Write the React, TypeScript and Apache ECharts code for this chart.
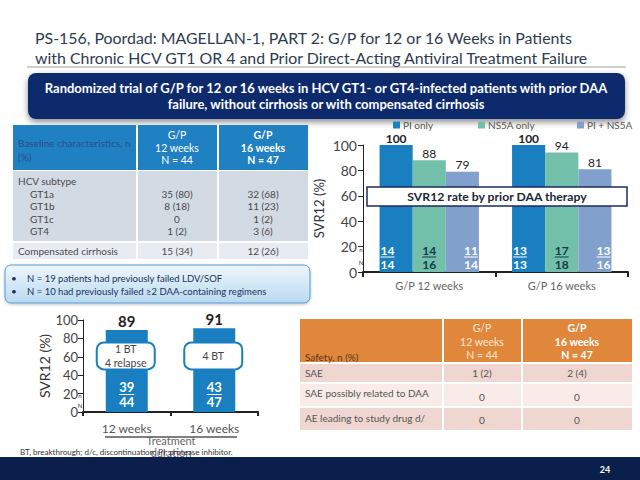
import React, { useEffect, useRef } from 'react';
import * as echarts from 'echarts';

const FONT = 'Lato, "Noto Sans", sans-serif';

// ---- Top-right chart: SVR12 by prior DAA therapy ----
const topCategories = ['G/P 12 weeks', 'G/P 16 weeks'];
const topSeriesNames = ['PI only', 'NS5A only', 'PI + NS5A'];
const piOnlySvr = [100, 100];
const ns5aOnlySvr = [88, 94];
const piNs5aSvr = [79, 81];
const piOnlyResp = [14, 13];
const piOnlyTotal = [14, 13];
const ns5aOnlyResp = [14, 17];
const ns5aOnlyTotal = [16, 18];
const piNs5aResp = [11, 13];
const piNs5aTotal = [14, 16];

// ---- Bottom-left chart: overall SVR12 by duration ----
const durationCategories = ['12 weeks', '16 weeks'];
const overallSvr = [89, 91];
const overallResp = [39, 43];
const overallTotal = [44, 47];
const failureNotes = [['1 BT', '4 relapse'], ['4 BT']];

// ---- Tables ----
const baselineRowLabels = ['HCV subtype', 'GT1a', 'GT1b', 'GT1c', 'GT4'];
const baseline12 = ['', '35 (80)', '8 (18)', '0', '1 (2)'];
const baseline16 = ['', '32 (68)', '11 (23)', '1 (2)', '3 (6)'];
const cirrhosisLabel = 'Compensated cirrhosis';
const cirrhosis12 = '15 (34)';
const cirrhosis16 = '12 (26)';
const safetyRowLabels = ['SAE', 'SAE possibly related to DAA', 'AE leading to study drug d/'];
const safety12 = ['1 (2)', '0', '0'];
const safety16 = ['2 (4)', '0', '0'];
const infoBullets = [
  'N = 19 patients had previously failed LDV/SOF',
  'N = 10 had previously failed \u22652 DAA-containing regimens',
];

const C_PI = '#1a7fc1';
const C_NS5A = '#72c0aa';
const C_PINS = '#82a0cc';

let measureCtx: CanvasRenderingContext2D | null = null;
function measure(text: string, font: string): number {
  if (!measureCtx) {
    const c = document.createElement('canvas');
    measureCtx = c.getContext('2d');
  }
  if (!measureCtx) return text.length * 7;
  measureCtx.font = font;
  return measureCtx.measureText(text).width;
}

function txt(text: string, x: number, y: number, size: number, color: string, opts: any = {}) {
  return {
    type: 'text',
    x,
    y,
    z: opts.z ?? 10,
    style: {
      text,
      font: `${opts.weight || 'normal'} ${size}px ${FONT}`,
      fill: color,
      textAlign: opts.align || 'left',
      textVerticalAlign: 'middle',
    },
  };
}

function rect(x: number, y: number, w: number, h: number, fill: any, opts: any = {}) {
  return {
    type: 'rect',
    z: opts.z ?? 1,
    shape: { x, y, width: w, height: h, r: opts.r || 0 },
    style: {
      fill,
      stroke: opts.stroke,
      lineWidth: opts.lineWidth || 0,
      shadowBlur: opts.shadowBlur || 0,
      shadowColor: opts.shadowColor,
      shadowOffsetY: opts.shadowOffsetY || 0,
    },
  };
}

function line(x1: number, y1: number, x2: number, y2: number, stroke: string, lw: number, z = 5) {
  return { type: 'line', z, shape: { x1, y1, x2, y2 }, style: { stroke, lineWidth: lw } };
}

export default function App() {
  const ref = useRef<HTMLDivElement>(null);

  useEffect(() => {
    document.body.style.margin = '0';
    if (!ref.current) return;
    const chart = echarts.init(ref.current, undefined, { renderer: 'svg' });

    const topResp = [piOnlyResp, ns5aOnlyResp, piNs5aResp];
    const topTotal = [piOnlyTotal, ns5aOnlyTotal, piNs5aTotal];
    const topLabelColors = ['#ffffff', '#17394f', '#ffffff'];
    const topColors = [C_PI, C_NS5A, C_PINS];
    const topValues = [piOnlySvr, ns5aOnlySvr, piNs5aSvr];

    const topCustomData: number[][] = [];
    topCategories.forEach((_, c) => topSeriesNames.forEach(() => topCustomData.push([c, 0])));

    const graphics: any[] = [];
    // Title
    graphics.push(txt('PS-156, Poordad: MAGELLAN-1, PART 2: G/P for 12 or 16 Weeks in Patients', 35, 37, 15.9, '#2d3b4e'));
    graphics.push(txt('with Chronic HCV GT1 OR 4 and Prior Direct-Acting Antiviral Treatment Failure', 35, 57, 15.9, '#2d3b4e'));
    graphics.push(line(27, 67, 626, 67, '#a0a0a0', 1));
    // Banner
    graphics.push(rect(28, 73, 597, 46, '#0f2c6c', { r: 8, shadowBlur: 6, shadowColor: 'rgba(0,0,0,0.45)', shadowOffsetY: 3 }));
    graphics.push(txt('Randomized trial of G/P for 12 or 16 weeks in HCV GT1- or GT4-infected patients with prior DAA', 326, 88, 13, '#ffffff', { weight: 'bold', align: 'center' }));
    graphics.push(txt('failure, without cirrhosis or with compensated cirrhosis', 326, 104, 13, '#ffffff', { weight: 'bold', align: 'center' }));

    // Baseline table
    graphics.push(rect(13, 125, 295, 45, '#1f80c2'));
    graphics.push(rect(13, 171, 295, 70, '#d2dae4'));
    graphics.push(rect(13, 243, 295, 16, '#e7ecf2'));
    graphics.push(line(137, 125, 137, 259, '#ffffff', 2));
    graphics.push(line(218, 125, 218, 259, '#ffffff', 2));
    graphics.push(txt('Baseline characteristics, n', 18, 143, 10, '#2c4f86'));
    graphics.push(txt('(%)', 18, 157, 10, '#2c4f86'));
    ['G/P', '12 weeks', 'N = 44'].forEach((t, i) => graphics.push(txt(t, 177, 135 + i * 12.5, 10.5, '#ffffff', { align: 'center' })));
    ['G/P', '16 weeks', 'N = 47'].forEach((t, i) => graphics.push(txt(t, 263, 135 + i * 12.5, 10.5, '#ffffff', { align: 'center', weight: 'bold' })));
    baselineRowLabels.forEach((t, i) => {
      const y = 181 + i * 12.6;
      graphics.push(txt(t, i === 0 ? 18 : 30, y, 10, '#4a4a4a'));
      graphics.push(txt(baseline12[i], 177, y, 10, '#4a4a4a', { align: 'center' }));
      graphics.push(txt(baseline16[i], 263, y, 10, '#4a4a4a', { align: 'center' }));
    });
    graphics.push(txt(cirrhosisLabel, 18, 251, 10, '#4a4a4a'));
    graphics.push(txt(cirrhosis12, 177, 251, 10, '#4a4a4a', { align: 'center' }));
    graphics.push(txt(cirrhosis16, 263, 251, 10, '#4a4a4a', { align: 'center' }));

    // Info box
    graphics.push(rect(5, 265, 305, 38, new echarts.graphic.LinearGradient(0, 0, 0, 1, [
      { offset: 0, color: '#eef6fc' },
      { offset: 1, color: '#b9daf1' },
    ]), { r: 6, stroke: '#5b9bd0', lineWidth: 1, shadowBlur: 3, shadowColor: 'rgba(0,0,0,0.25)', shadowOffsetY: 1 }));
    infoBullets.forEach((t, i) => {
      graphics.push(txt('\u2022', 11, 278 + i * 13, 10, '#1c2f5a'));
      graphics.push(txt(t, 27, 278 + i * 13, 9.5, '#1c2f5a'));
    });

    // Safety table
    graphics.push(rect(300, 319, 332, 43, '#e0873b'));
    const rowYs = [[364, 18], [384, 22], [408, 22]];
    rowYs.forEach(([y, h], i) => graphics.push(rect(300, y, 332, h, i % 2 === 0 ? '#efd6d0' : '#f8ebe8')));
    graphics.push(line(443, 319, 443, 430, '#ffffff', 2));
    graphics.push(line(522, 319, 522, 430, '#ffffff', 2));
    graphics.push(txt('Safety, n (%)', 305, 357, 10, '#5a3420'));
    ['G/P', '12 weeks', 'N = 44'].forEach((t, i) => graphics.push(txt(t, 482, 328 + i * 13.5, 10.5, '#fbe7d6', { align: 'center' })));
    ['G/P', '16 weeks', 'N = 47'].forEach((t, i) => graphics.push(txt(t, 577, 328 + i * 13.5, 10.5, '#ffffff', { align: 'center', weight: 'bold' })));
    const labelYs = [373, 393, 418];
    const valueYs = [373, 397, 420];
    safetyRowLabels.forEach((t, i) => {
      graphics.push(txt(t, 305, labelYs[i], 10, '#555555'));
      graphics.push(txt(safety12[i], 482, valueYs[i], 10, '#555555', { align: 'center' }));
      graphics.push(txt(safety16[i], 577, valueYs[i], 10, '#555555', { align: 'center' }));
    });

    // Overlay box on top chart
    graphics.push({
      type: 'rect', z: 100,
      shape: { x: 367, y: 187, width: 260, height: 19 },
      style: { fill: '#ffffff', stroke: '#1c2b5c', lineWidth: 1.5 },
    });
    graphics.push(txt('SVR12 rate by prior DAA therapy', 497, 196.5, 12.2, '#1c2633', { weight: 'bold', align: 'center', z: 101 }));

    // n / N small markers
    graphics.push(txt('n', 361, 249, 6, '#333333', { align: 'center' }));
    graphics.push(txt('N', 361, 262, 6, '#333333', { align: 'center' }));
    graphics.push(txt('n', 80, 395, 6, '#333333', { align: 'center' }));
    graphics.push(txt('N', 80, 405, 6, '#333333', { align: 'center' }));

    // Treatment duration
    graphics.push(line(105, 437, 237, 437, '#555555', 1.5));
    graphics.push(txt('Treatment', 171, 440, 11, '#666666', { align: 'center' }));
    graphics.push(txt('duration', 171, 452, 11, '#666666', { align: 'center' }));

    // Footnote
    graphics.push(txt('BT, breakthrough; d/c, discontinuation; PI, protease inhibitor.', 20, 452, 8, '#333333'));

    // Bottom band
    graphics.push(rect(0, 457, 640, 23, '#0b1f4d'));
    graphics.push(txt('24', 605, 469, 9, '#ffffff', { weight: 'bold', align: 'center' }));

    const option: any = {
      animation: false,
      textStyle: { fontFamily: FONT },
      legend: topSeriesNames.map((n, i) => ({
        data: [n],
        left: [393, 478, 577][i],
        top: 120,
        icon: 'rect',
        itemWidth: 7,
        itemHeight: 7,
        itemGap: 4,
        padding: 0,
        textStyle: { fontSize: 10, color: '#555555', fontFamily: FONT, padding: [0, 0, 0, -2] },
        selectedMode: false,
      })),
      grid: [
        { left: 363, right: 12, top: 145, bottom: 208 },
        { left: 83, right: 382, top: 320, bottom: 68 },
      ],
      xAxis: [
        {
          gridIndex: 0, type: 'category', data: topCategories,
          axisLine: { lineStyle: { color: '#222222', width: 2 } },
          axisTick: { show: true, length: 5, lineStyle: { color: '#222222', width: 2 } },
          axisLabel: { fontSize: 11, color: '#666666', margin: 8, fontFamily: FONT },
        },
        {
          gridIndex: 1, type: 'category', data: durationCategories,
          axisLine: { lineStyle: { color: '#222222', width: 2 } },
          axisTick: { show: true, length: 4, lineStyle: { color: '#222222', width: 2 } },
          axisLabel: { fontSize: 12, color: '#555555', margin: 10, fontFamily: FONT },
        },
      ],
      yAxis: [
        {
          gridIndex: 0, type: 'value', min: 0, max: 100, interval: 20,
          axisLine: { show: true, lineStyle: { color: '#222222' } },
          axisTick: { show: true, length: 5, lineStyle: { color: '#222222' } },
          splitLine: { show: false },
          axisLabel: { fontSize: 14, color: '#444444', margin: 6, fontFamily: FONT },
          name: 'SVR12 (%)', nameLocation: 'middle', nameGap: 38,
          nameTextStyle: { fontSize: 13, color: '#333333', fontFamily: FONT },
        },
        {
          gridIndex: 1, type: 'value', min: 0, max: 100, interval: 20,
          axisLine: { show: true, lineStyle: { color: '#222222' } },
          axisTick: { show: true, length: 5, lineStyle: { color: '#222222' } },
          splitLine: { show: false },
          axisLabel: { fontSize: 13, color: '#444444', margin: 5, fontFamily: FONT },
          name: 'SVR12 (%)', nameLocation: 'middle', nameGap: 29,
          nameTextStyle: { fontSize: 14, color: '#333333', fontFamily: FONT },
        },
      ],
      series: [
        ...topSeriesNames.map((name, s) => ({
          name,
          type: 'bar',
          xAxisIndex: 0,
          yAxisIndex: 0,
          barGap: '0%',
          barCategoryGap: '25%',
          itemStyle: { color: topColors[s] },
          label: { show: true, position: 'top', distance: 1, fontSize: 12, color: '#222222', fontFamily: FONT },
          data: topValues[s].map((v) => ({ value: v, label: { fontWeight: v === 100 ? 'bold' : 'normal' } })),
        })),
        {
          type: 'custom',
          xAxisIndex: 0,
          yAxisIndex: 0,
          z: 5,
          data: topCustomData,
          renderItem: (params: any, api: any) => {
            const idx = params.dataIndex;
            const cat = Math.floor(idx / 3);
            const s = idx % 3;
            const base = api.coord([cat, 0]);
            const band = api.size([1, 0])[0];
            const groupW = band * 0.75;
            const barW = groupW / 3;
            const left = base[0] - groupW / 2 + s * barW;
            const aligns = ['left', 'center', 'right'];
            const tx = s === 0 ? left + 1 : s === 1 ? left + barW / 2 : left + barW - 1;
            const color = topLabelColors[s];
            const font = `bold 12px ${FONT}`;
            const r = String(topResp[s][cat]);
            const t = String(topTotal[s][cat]);
            const w = measure(r, font);
            const ux0 = s === 0 ? tx : s === 1 ? tx - w / 2 : tx - w;
            return {
              type: 'group',
              children: [
                { type: 'text', x: tx, y: base[1] - 22, style: { text: r, font, fill: color, textAlign: aligns[s], textVerticalAlign: 'middle' } },
                { type: 'line', shape: { x1: ux0, y1: base[1] - 15, x2: ux0 + w, y2: base[1] - 15 }, style: { stroke: color, lineWidth: 1 } },
                { type: 'text', x: tx, y: base[1] - 8, style: { text: t, font, fill: color, textAlign: aligns[s], textVerticalAlign: 'middle' } },
              ],
            };
          },
        },
        {
          name: 'Overall',
          type: 'bar',
          xAxisIndex: 1,
          yAxisIndex: 1,
          barWidth: 42,
          itemStyle: { color: C_PI },
          label: { show: true, position: 'top', distance: 2, fontSize: 15, fontWeight: 'bold', color: '#222222', fontFamily: FONT },
          data: overallSvr,
        },
        {
          type: 'custom',
          xAxisIndex: 1,
          yAxisIndex: 1,
          z: 5,
          data: durationCategories.map((_, i) => [i, 0]),
          renderItem: (params: any, api: any) => {
            const i = params.dataIndex;
            const base = api.coord([i, 0]);
            const boxC = api.coord([i, 61]);
            const font = `bold 13px ${FONT}`;
            const r = String(overallResp[i]);
            const t = String(overallTotal[i]);
            const w = measure(r, font);
            const notes = failureNotes[i];
            const noteChildren = notes.map((n, k) => ({
              type: 'text', x: base[0] - 1, y: boxC[1] + (notes.length === 1 ? 0 : (k === 0 ? -7 : 7)),
              style: { text: n, font: `normal 10.5px ${FONT}`, fill: '#444444', textAlign: 'center', textVerticalAlign: 'middle' },
            }));
            return {
              type: 'group',
              children: [
                { type: 'rect', shape: { x: base[0] - 30, y: boxC[1] - 13.5, width: 58, height: 27, r: 7 }, style: { fill: '#ffffff', stroke: C_PI, lineWidth: 2 } },
                ...noteChildren,
                { type: 'text', x: base[0], y: base[1] - 25, style: { text: r, font, fill: '#ffffff', textAlign: 'center', textVerticalAlign: 'middle' } },
                { type: 'line', shape: { x1: base[0] - w / 2, y1: base[1] - 17.5, x2: base[0] + w / 2, y2: base[1] - 17.5 }, style: { stroke: '#ffffff', lineWidth: 1 } },
                { type: 'text', x: base[0], y: base[1] - 10, style: { text: t, font, fill: '#ffffff', textAlign: 'center', textVerticalAlign: 'middle' } },
              ],
            };
          },
        },
      ],
      graphic: { elements: graphics },
    };

    chart.setOption(option);
    return () => chart.dispose();
  }, []);

  return (
    <div
      ref={ref}
      style={{ position: 'fixed', left: 0, top: 0, width: 640, height: 480, background: '#ffffff' }}
    />
  );
}
